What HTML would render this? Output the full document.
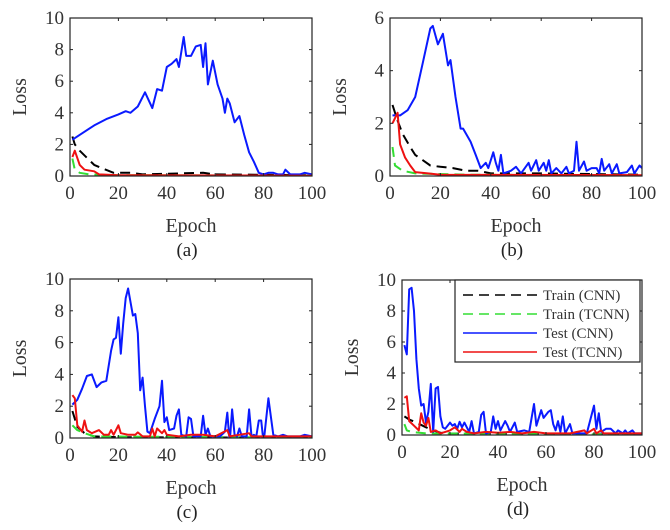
<!DOCTYPE html>
<html><head><meta charset="utf-8"><style>
html,body{margin:0;padding:0;background:#fff;}
svg{display:block;font-family:"Liberation Serif",serif;}
</style></head><body>
<svg id="fig" width="670" height="530" viewBox="0 0 670 530" xmlns="http://www.w3.org/2000/svg"></svg>
<script>
// Panel (a)
const aBlueX=[1,5,10,15,20,23,25,28,31,34,36,38,40,42,44,45,47,48,50,52,54,55,56,57,59,61,63,64,65,66,68,70,72,74,76,78,80,82,84,86,88,89,91,95,97,100];
const aBlueY=[2.3,2.7,3.2,3.6,3.9,4.1,4.0,4.4,5.3,4.3,5.5,5.4,6.9,7.1,7.4,6.9,8.8,7.6,7.6,8.2,8.3,6.9,8.4,5.8,7.3,5.8,4.9,4.0,4.9,4.6,3.4,3.8,2.6,1.5,0.9,0.2,0.1,0.2,0.2,0.1,0.1,0.4,0.1,0.1,0.2,0.1];
const aBlackX=[1,2,4,8,10,13,18,25,30,55,60,100];
const aBlackY=[2.5,2.0,1.6,1.0,0.7,0.5,0.2,0.2,0.1,0.2,0.1,0.05];
const aGreenX=[1,2,4,8,20,100];
const aGreenY=[1.1,0.4,0.2,0.1,0.05,0.02];
const aRedX=[1,2,4,6,10,12,20,100];
const aRedY=[1.2,1.6,0.7,0.4,0.3,0.1,0.05,0.02];
// Panel (b)
const bBlueX=[1,4,7,10,13,16,17,19,21,23,24,26,28,29,32,34,36,38,39,41,42,43,44,45,48,50,52,55,56,58,59,61,62,63,64,66,68,70,71,73,74,75,77,78,80,82,83,84,85,87,88,90,91,94,96,97,99,100];
const bBlueY=[2.3,2.3,2.5,3.0,4.3,5.6,5.7,5.0,5.4,4.2,4.4,3.0,1.8,1.8,1.3,0.8,0.3,0.5,0.3,0.9,0.5,0.2,0.8,0.1,0.2,0.35,0.1,0.5,0.2,0.6,0.2,0.5,0.2,0.6,0.1,0.3,0.1,0.35,0.1,0.2,1.3,0.2,0.55,0.2,0.3,0.3,0.1,0.65,0.2,0.45,0.1,0.45,0.1,0.15,0.4,0.1,0.4,0.3];
const bBlackX=[1,3,5,8,10,13,16,20,25,30,35,40,60,100];
const bBlackY=[2.7,2.1,1.6,1.1,0.8,0.6,0.4,0.35,0.3,0.2,0.2,0.1,0.1,0.05];
const bGreenX=[1,2,5,10,30,100];
const bGreenY=[1.1,0.4,0.2,0.1,0.05,0.02];
const bRedX=[1,3,4,6,8,10,15,20,100];
const bRedY=[2.0,2.4,1.2,0.7,0.4,0.15,0.1,0.05,0.03];
// Panel (c)
const cBlueX=[1,3,5,7,9,11,13,15,17,18,19,20,21,22,23,24,26,27,28,29,30,31,32,33,35,37,38,39,40,41,43,44,45,46,48,49,50,51,54,55,56,57,58,62,64,65,66,67,68,69,70,71,73,74,75,76,77,78,79,80,82,84,86,88,90,95,97,100];
const cBlueY=[2.1,2.4,3.1,3.9,4.0,3.2,3.5,3.6,5.5,6.2,6.3,7.6,5.3,7.2,8.8,9.4,7.7,7.8,6.6,3.0,3.8,2.0,0.4,0.3,1.2,2.0,3.6,1.0,1.3,0.5,0.6,1.4,1.8,0.2,0.1,1.3,1.2,0.1,0.1,1.4,0.2,0.6,0.1,0.1,0.4,1.6,-0.3,1.8,0.2,0.1,0.6,0.1,0.1,1.8,0.1,0.2,0.1,1.1,1.1,-0.3,2.5,0.2,0.1,0.2,0.1,0.1,0.2,0.1];
const cBlackX=[1,3,6,10,20,100];
const cBlackY=[1.7,0.7,0.3,0.1,0.05,0.02];
const cGreenX=[1,3,6,10,100];
const cGreenY=[0.8,0.5,0.3,0.1,0.02];
const cRedX=[1,2,3,5,6,7,9,12,14,16,17,18,20,21,24,27,28,30,33,34,35,36,38,39,40,45,50,55,60,65,66,74,75,100];
const cRedY=[2.7,2.5,0.8,0.4,1.1,0.5,0.3,0.5,0.2,0.2,0.5,0.2,0.8,0.3,0.2,0.2,0.35,0.1,0.1,0.6,0.1,0.6,0.3,0.5,0.2,0.1,0.2,0.2,0.1,0.5,0.1,0.3,0.1,0.1];
// Panel (d)
const dBlueX=[1,2,3,4,5,6,7,8,9,10,11,12,13,14,15,16,17,18,20,21,22,23,24,25,26,27,28,29,30,32,33,34,35,37,38,39,40,41,43,44,45,47,48,51,53,55,56,58,59,61,62,63,64,65,66,67,68,70,71,75,77,80,81,82,83,85,87,89,90,92,93,94,96,97,100];
const dBlueY=[5.8,5.2,9.4,9.5,8.0,4.9,3.0,1.9,2.0,0.8,1.5,3.3,0.2,3.0,3.1,1.2,0.5,0.4,0.8,0.6,0.7,0.4,0.85,0.5,0.8,0.5,0.2,0.9,0.1,0.2,1.3,1.5,0.1,0.2,1.2,0.4,0.9,0.3,0.9,0.6,0.2,0.8,0.2,0.3,0.2,2.0,0.6,1.6,1.1,1.5,1.6,0.7,0.3,0.9,0.2,1.2,0.1,0.7,0.1,0.1,0.1,1.9,0.4,1.4,0.2,0.4,0.4,0.1,0.3,0.1,0.3,0.1,0.3,0.1,0.1];
const dBlackX=[1,3,6,10,13,16,20,100];
const dBlackY=[1.2,1.0,0.8,0.5,0.3,0.15,0.1,0.03];
const dGreenX=[1,2,4,10,100];
const dGreenY=[0.7,0.3,0.2,0.1,0.02];
const dRedX=[1,2,3,5,7,8,9,10,11,12,14,16,18,20,22,24,25,27,30,35,40,45,50,55,60,70,76,77,80,81,83,84,100];
const dRedY=[2.4,2.5,0.9,0.6,0.3,1.4,0.8,0.6,1.1,0.2,0.3,0.1,0.2,0.3,0.5,0.2,0.4,0.2,0.1,0.2,0.15,0.2,0.1,0.2,0.1,0.1,0.3,0.1,0.4,0.1,0.3,0.1,0.1];

const xTicks=[0,20,40,60,80,100];
const yTicks10=[0,2,4,6,8,10];
const yTicks6=[0,2,4,6];
const legendLabels=["Train (CNN)","Train (TCNN)","Test (CNN)","Test (TCNN)"];

const NS="http://www.w3.org/2000/svg";
const fig=document.getElementById('fig');
function mk(tag,attrs,parent){const e=document.createElementNS(NS,tag);for(const k in attrs)e.setAttribute(k,attrs[k]);(parent||fig).appendChild(e);return e;}

const panels=[
 {id:'a',x0:70,x1:312,y0:18,y1:176,ymax:10,yt:yTicks10,lab:'(a)',series:[[aBlackX,aBlackY],[aGreenX,aGreenY],[aBlueX,aBlueY],[aRedX,aRedY]]},
 {id:'b',x0:390,x1:642,y0:18,y1:176,ymax:6,yt:yTicks6,lab:'(b)',series:[[bBlackX,bBlackY],[bGreenX,bGreenY],[bBlueX,bBlueY],[bRedX,bRedY]]},
 {id:'c',x0:70,x1:312,y0:279,y1:438,ymax:10,yt:yTicks10,lab:'(c)',series:[[cBlackX,cBlackY],[cGreenX,cGreenY],[cBlueX,cBlueY],[cRedX,cRedY]]},
 {id:'d',x0:402,x1:642,y0:280,y1:435,ymax:10,yt:yTicks10,lab:'(d)',series:[[dBlackX,dBlackY],[dGreenX,dGreenY],[dBlueX,dBlueY],[dRedX,dRedY]]}
];
const styles=[
 {c:'#000',d:'10,6',n:'train-cnn-line'},
 {c:'#33dd33',d:'10,6',n:'train-tcnn-line'},
 {c:'#0a1aff',d:'',n:'test-cnn-line'},
 {c:'#ee1111',d:'',n:'test-tcnn-line'}
];

panels.forEach(p=>{
 const g=mk('g',{});
 
 
 const sx=v=>p.x0+(v/100)*(p.x1-p.x0);
 const sy=v=>p.y1-(v/p.ymax)*(p.y1-p.y0);
 const clipId='clip'+p.id;
 const cp=mk('clipPath',{id:clipId},g);
 mk('rect',{x:p.x0,y:p.y0,width:p.x1-p.x0,height:p.y1-p.y0},cp);
 const sg=mk('g',{'clip-path':'url(#'+clipId+')'},g);
 p.series.forEach((s,i)=>{
  const pts=s[0].map((x,j)=>sx(x).toFixed(1)+','+sy(s[1][j]).toFixed(1)).join(' ');
  const pl=mk('polyline',{points:pts,fill:'none',stroke:styles[i].c,'stroke-width':2,'stroke-dasharray':styles[i].d,'stroke-linejoin':'round'},sg);
  
  
 });
 const box=mk('rect',{x:p.x0,y:p.y0,width:p.x1-p.x0,height:p.y1-p.y0,fill:'none',stroke:'#222','stroke-width':1.2},g);
 
 
 xTicks.forEach(t=>{
  const x=sx(t);
  mk('line',{x1:x,x2:x,y1:p.y1,y2:p.y1-3,stroke:'#222'},g);
  mk('line',{x1:x,x2:x,y1:p.y0,y2:p.y0+3,stroke:'#222'},g);
  const tx=mk('text',{x:x,y:p.y1+23,'text-anchor':'middle','font-size':19,fill:'#333'},g);
  tx.textContent=t;
  
  
 });
 p.yt.forEach(t=>{
  const y=sy(t);
  mk('line',{x1:p.x0,x2:p.x0+3,y1:y,y2:y,stroke:'#222'},g);
  mk('line',{x1:p.x1,x2:p.x1-3,y1:y,y2:y,stroke:'#222'},g);
  const tx=mk('text',{x:p.x0-6,y:y+6,'text-anchor':'end','font-size':19,fill:'#333'},g);
  tx.textContent=t;
  
  
 });
 const xl=mk('text',{x:(p.x0+p.x1)/2,y:p.y1+56,'text-anchor':'middle','font-size':20,fill:'#333'},g);
 xl.textContent='Epoch';
 
 
 const lx=p.x0-44, ly=(p.y0+p.y1)/2;
 const yl=mk('text',{x:lx,y:ly,'text-anchor':'middle','font-size':20,fill:'#333',transform:'rotate(-90 '+lx+' '+ly+')'},g);
 yl.textContent='Loss';
 
 
 const cap=mk('text',{x:(p.x0+p.x1)/2-4,y:p.y1+80,'text-anchor':'middle','font-size':19,fill:'#222'},g);
 cap.textContent=p.lab;
 
 
});

// legend in panel d
const lg=mk('g',{});


mk('rect',{x:455,y:280,width:185,height:82,fill:'#fff',stroke:'#222','stroke-width':1.2},lg);
legendLabels.forEach((l,i)=>{
 const y=295+i*19;
 const ln=mk('line',{x1:463,x2:537,y1:y,y2:y,stroke:styles[i].c,'stroke-width':1.6,'stroke-dasharray':styles[i].d},lg);
 
 
 const t=mk('text',{x:543,y:y+5,'font-size':15,fill:'#333'},lg);
 t.textContent=l;
 
 
});
</script>
</body></html>
